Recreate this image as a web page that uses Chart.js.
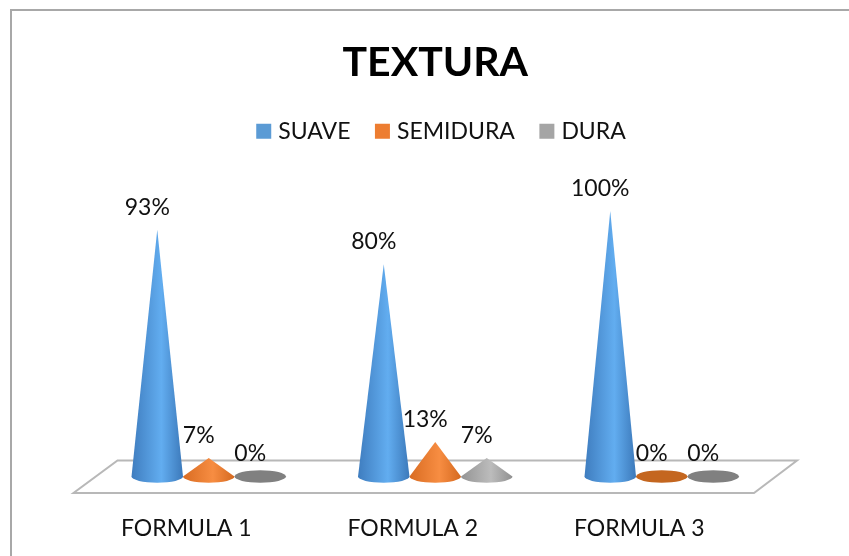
<!DOCTYPE html>
<html><head><meta charset="utf-8">
<style>html,body{margin:0;padding:0;background:#fff}#f{position:absolute;left:10px;top:9px;width:839px;height:547px;box-sizing:border-box;border-top:2px solid #a8a8a8;border-left:2px solid #a8a8a8}canvas{position:absolute;left:0;top:0;filter:blur(0.4px)}</style>
<script src="https://cdn.jsdelivr.net/npm/chart.js@4/dist/chart.umd.js"></script>
</head><body><div id="f"></div><canvas id="c" width="849" height="556"></canvas>
<script>
const categories = ["FORMULA 1", "FORMULA 2", "FORMULA 3"];
const suave = [93, 80, 100];
const semidura = [7, 13, 0];
const dura = [0, 7, 0];
const palette = {
  SUAVE: ["#3f7dbf", "#62adf0", "#3c79ba", "#5b9bd5"],
  SEMIDURA: ["#d96c22", "#f78d42", "#d5691f", "#c4661f"],
  DURA: ["#949494", "#bcbcbc", "#909090", "#808080"]
};
Chart.BarElement.prototype.draw = function (ctx) {
  const p = this.getProps(["x", "y", "base", "width"], true);
  const rx = p.width / 2, ry = 6.2, c = palette[this.$series] || palette.SUAVE;
  const flat = Math.abs(p.base - p.y) < 1;
  ctx.save();
  if (flat) {
    ctx.fillStyle = c[3];
    ctx.beginPath(); ctx.ellipse(p.x, p.base, rx, ry, 0, 0, Math.PI * 2); ctx.fill();
  } else {
    const g = ctx.createLinearGradient(p.x - rx, 0, p.x + rx, 0);
    g.addColorStop(0, c[0]); g.addColorStop(0.58, c[1]); g.addColorStop(1, c[2]);
    ctx.fillStyle = g;
    ctx.beginPath(); ctx.moveTo(p.x, p.y); ctx.lineTo(p.x + rx, p.base);
    ctx.ellipse(p.x, p.base, rx, ry, 0, 0, Math.PI); ctx.closePath(); ctx.fill();
  }
  ctx.restore();
};
const floorPlugin = {
  id: "floor",
  beforeDatasetsDraw(chart) {
    const { ctx, chartArea: a, scales: { y } } = chart, y0 = y.getPixelForValue(0);
    ctx.save(); ctx.strokeStyle = "#b8b8b8"; ctx.lineWidth = 2; ctx.fillStyle = "#fff";
    ctx.beginPath();
    ctx.moveTo(a.left - 22, y0 + 16.5); ctx.lineTo(a.right - 21, y0 + 16.5);
    ctx.lineTo(a.right + 22, y0 - 16); ctx.lineTo(a.left + 22, y0 - 16);
    ctx.closePath(); ctx.fill(); ctx.stroke(); ctx.restore();
  }
};
const labelPlugin = {
  id: "valueLabels",
  afterDatasetsDraw(chart) {
    const ctx = chart.ctx;
    ctx.save(); ctx.font = "23px Lato"; ctx.fillStyle = "#111"; ctx.textAlign = "center"; ctx.textBaseline = "middle";
    chart.data.datasets.forEach((ds, i) => {
      chart.getDatasetMeta(i).data.forEach((el, j) => {
        ctx.fillText(ds.data[j] + "%", el.x - 10, el.y - 22.5);
      });
    });
    ctx.restore();
  }
};
const legendShift = {
  id: "legendShift",
  afterLayout(chart) { chart.legend.left += 8; chart.legend.right += 8; }
};
const sets = [["SUAVE", suave, "#5b9bd5"], ["SEMIDURA", semidura, "#ed7d31"], ["DURA", dura, "#a5a5a5"]];
const chart = new Chart(document.getElementById("c"), {
  type: "bar",
  data: {
    labels: categories,
    datasets: sets.map(([label, data, color]) => ({ label, data, backgroundColor: color, borderColor: color, clip: false, barPercentage: 1, categoryPercentage: 0.682 }))
  },
  plugins: [floorPlugin, labelPlugin, legendShift],
  options: {
    responsive: false, animation: false, events: [],
    layout: { padding: { left: 95.5, right: 74, top: 38, bottom: 0 } },
    plugins: {
      tooltip: { enabled: false },
      title: { display: true, text: "TEXTURA", color: "#000", font: { family: "Lato", size: 41, weight: "bold" }, padding: { top: 0, bottom: 3.5 } },
      legend: { display: true, labels: { usePointStyle: true, pointStyle: "rect", boxWidth: 6, boxHeight: 15, padding: 29, color: "#111", font: { family: "Lato", size: 23 } } }
    },
    scales: {
      x: { grid: { display: false }, border: { display: false }, ticks: { color: "#111", padding: 30, labelOffset: -22.5, font: { family: "Lato", size: 23 }, maxRotation: 0 }, afterFit(s) { s.height = 79.5; } },
      y: { display: false, min: 0, max: 122 }
    }
  }
});
chart.data.datasets.forEach((ds, i) => chart.getDatasetMeta(i).data.forEach(el => el.$series = ds.label));
chart.draw();
</script></body></html>
